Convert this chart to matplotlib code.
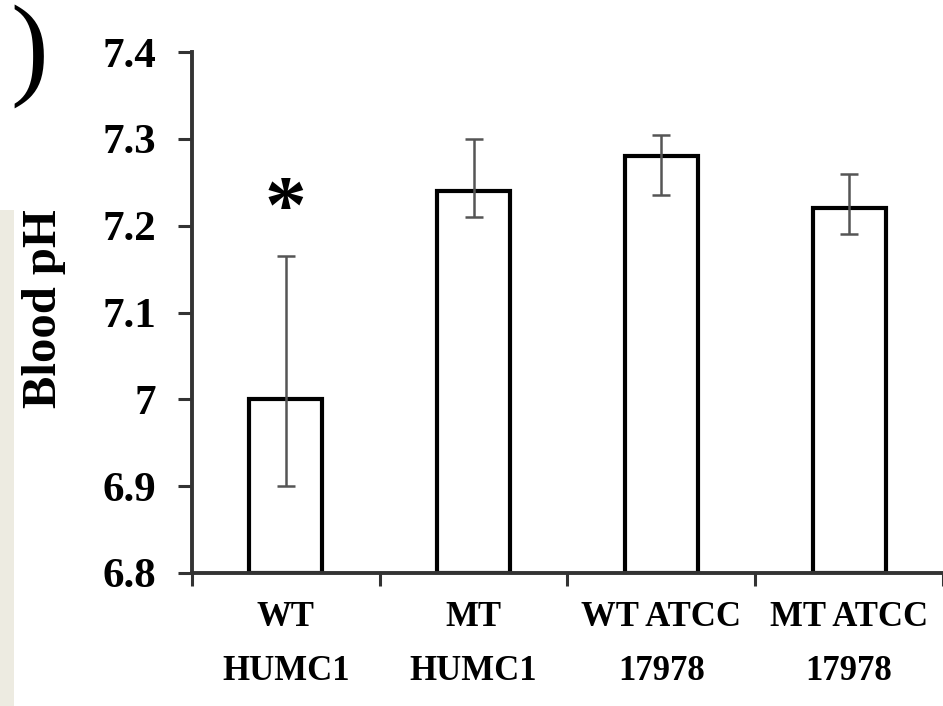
import matplotlib.pyplot as plt
from matplotlib.patches import Rectangle

# Blood pH per strain
groups = ['WT\nHUMC1', 'MT\nHUMC1', 'WT ATCC\n17978', 'MT ATCC\n17978']
ph_mean = [7.00, 7.24, 7.28, 7.22]
err_low = [0.10, 0.03, 0.045, 0.03]
err_high = [0.165, 0.06, 0.025, 0.04]
y_ticks = [6.8, 6.9, 7.0, 7.1, 7.2, 7.3, 7.4]
y_tick_labels = ['6.8', '6.9', '7', '7.1', '7.2', '7.3', '7.4']

serif = 'Liberation Serif'

fig = plt.figure(figsize=(9.43, 7.06), dpi=100)
ax = fig.add_axes([0.2036, 0.1884, 0.7964, 0.7379])

# beige strip on the left edge
fig.patches.append(Rectangle((0, 0), 14 / 943, 0.7025, transform=fig.transFigure,
                             facecolor='#edebe1', edgecolor='none', zorder=0))

x = [i + 0.5 for i in range(len(groups))]
ax.bar(x, [m - 6.8 for m in ph_mean], bottom=6.8, width=0.39,
       facecolor='white', edgecolor='black', linewidth=3.0, zorder=2)
ax.errorbar(x, ph_mean, yerr=[err_low, err_high], fmt='none',
            ecolor='#555555', elinewidth=1.8, capsize=6.5, capthick=1.8, zorder=3)

ax.set_xlim(0, 4)
ax.set_ylim(6.8, 7.4)
ax.set_yticks(y_ticks)
ax.set_yticklabels(y_tick_labels, fontfamily=serif, fontweight='bold', fontsize=31)
ax.set_xticks([0, 1, 2, 3, 4])
ax.set_xticklabels([])
ax.set_xticks(x, minor=True)
ax.set_xticklabels(groups, minor=True, fontfamily=serif, fontweight='bold',
                   fontsize=25, linespacing=1.85)
ax.tick_params(axis='x', which='minor', length=0, pad=20)
ax.tick_params(axis='x', which='major', direction='out', length=9, width=2.2, color='#333333')
ax.tick_params(axis='y', direction='out', length=10, width=2.2, color='#333333', pad=16)

for s in ['top', 'right']:
    ax.spines[s].set_visible(False)
for s in ['left', 'bottom']:
    ax.spines[s].set_linewidth(2.8)
    ax.spines[s].set_color('#333333')

ax.set_ylabel('Blood pH', fontfamily=serif, fontweight='bold', fontsize=35)
ax.yaxis.set_label_coords(-0.168, 0.507)

ax.text(0.5, 7.215, '*', ha='center', va='center', fontfamily=serif,
        fontweight='bold', fontsize=60)

fig.text(29 / 943, 1 - 56 / 706, ')', ha='center', va='center', fontfamily=serif,
         fontsize=82)

fig.savefig('out.png', dpi=100)
